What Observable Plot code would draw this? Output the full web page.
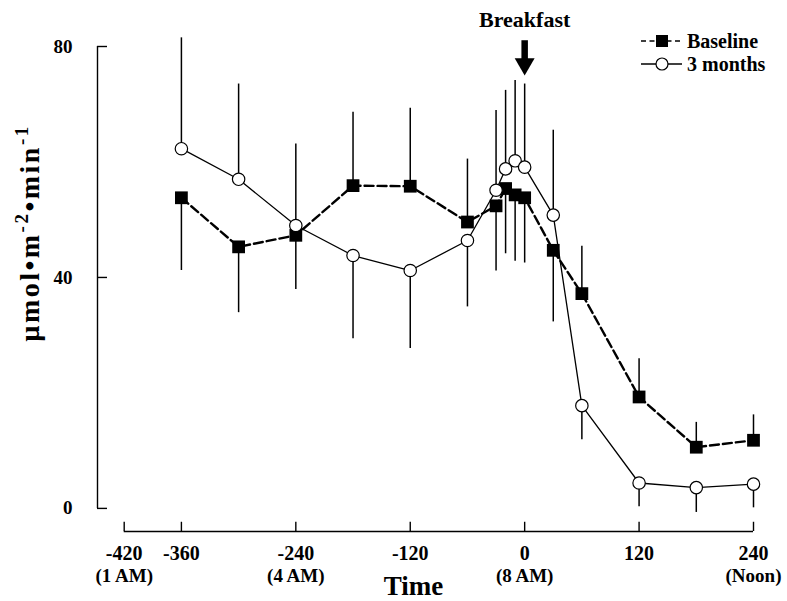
<!DOCTYPE html>
<html>
<head>
<meta charset="utf-8">
<script src="https://cdn.jsdelivr.net/npm/d3@7"></script>
<script src="https://cdn.jsdelivr.net/npm/@observablehq/plot@0.6"></script>
<style>
  html, body { margin: 0; padding: 0; background: #fff; }
  svg { display: block; }
</style>
</head>
<body>
<div id="chart"></div>
<script>
// ---- data ----
const times = [-360, -300, -240, -180, -120, -60, -30, -20, -10, 0, 30, 60, 120, 180, 240];
const baseline = [53.8, 45.3, 47.3, 55.9, 55.8, 49.6, 52.4, 55.4, 54.3, 53.8, 44.7, 37.2, 19.3, 10.6, 11.8];
const baselineBarEnd = [41.2, 33.9, 37.9, 68.6, 69.3, 60.5, 41.1, 44.1, 42.8, 42.5, 32.3, 45.4, 25.9, 14.9, 16.2];
const months3 = [62.3, 57.0, 49.0, 43.8, 41.2, 46.4, 55.1, 58.8, 60.2, 59.1, 50.8, 17.8, 4.4, 3.6, 4.2];
const months3BarEnd = [81.5, 73.5, 63.1, 29.4, 27.7, 34.9, 68.9, 72.4, 74.1, 73.5, 65.5, 11.9, 0.3, -0.7, 0.1];
const xTicks = [-420, -360, -240, -120, 0, 120, 240];
const xTickClock = ["(1 AM)", "", "(4 AM)", "", "(8 AM)", "", "(Noon)"];
const yTicks = [0, 40, 80];
const seriesNames = ["Baseline", "3 months"];
const yTitle = "\u00b5mol\u2022m-2\u2022min-1";
const xTitle = "Time";
const annotations = [{t: 0, label: "Breakfast"}];

const rows = times.map((t, i) => ({
  t, base: baseline[i], baseEnd: baselineBarEnd[i], m3: months3[i], m3End: months3BarEnd[i]
}));

const font = "'Liberation Serif', 'Times New Roman', serif";
const xLeft = -448;   // where the y axis sits, in x units
const yBottom = -4;   // where the x axis sits, in y units
const txt = {fontFamily: font, fontWeight: "bold", fill: "black"};

const chart = Plot.plot({
  width: 787, height: 601,
  marginLeft: 97, marginRight: 34, marginTop: 46, marginBottom: 70,
  x: {domain: [xLeft, 240], axis: null},
  y: {domain: [yBottom, 80], axis: null},
  style: {background: "white", overflow: "visible"},
  marks: [
    // y axis
    Plot.ruleX([xLeft], {x: d => d, y1: 0, y2: 80, stroke: "black", strokeWidth: 1.4}),
    Plot.ruleY(yTicks, {y: d => d, x1: xLeft, x2: xLeft + 10.5, stroke: "black", strokeWidth: 1.4}),
    Plot.text(yTicks, {x: xLeft, y: d => d, text: d => String(d), dx: -25, textAnchor: "end", fontSize: 19, ...txt}),
    // x axis
    Plot.ruleY([yBottom], {y: d => d, x1: -420, x2: 240, stroke: "black", strokeWidth: 1.4}),
    Plot.ruleX(xTicks, {x: d => d, y1: yBottom, y2: yBottom + 1.6, stroke: "black", strokeWidth: 1.4}),
    Plot.text(xTicks, {x: d => d, y: yBottom, dy: 22, text: d => String(d), fontSize: 20, ...txt}),
    Plot.text(xTicks, {x: d => d, y: yBottom, dy: 44, text: (d, i) => xTickClock[i], fontSize: 19, ...txt}),
    Plot.text([xTitle], {frameAnchor: "bottom", text: d => d, dx: -12, dy: 55, lineAnchor: "middle", textAnchor: "middle", fontSize: 27, ...txt}),
    Plot.text([yTitle], {frameAnchor: "left", text: d => d, dx: -67, dy: -56, rotate: -90, lineAnchor: "middle", textAnchor: "middle", fontSize: 28, ...txt}),
    // error bars
    Plot.ruleX(rows, {x: "t", y1: "base", y2: "baseEnd", stroke: "black", strokeWidth: 1.5}),
    Plot.ruleX(rows, {x: "t", y1: "m3", y2: "m3End", stroke: "black", strokeWidth: 1.5}),
    // lines
    Plot.line(rows, {x: "t", y: "m3", stroke: "black", strokeWidth: 1.3}),
    Plot.line(rows, {x: "t", y: "base", stroke: "black", strokeWidth: 2.4, strokeDasharray: "9,4"}),
    // markers
    Plot.dot(rows, {x: "t", y: "base", symbol: "square", r: 7.2, fill: "black", stroke: "none"}),
    Plot.dot(rows, {x: "t", y: "m3", r: 6.2, fill: "white", stroke: "black", strokeWidth: 1.2}),
    // breakfast annotation
    Plot.text(annotations, {x: "t", text: "label", frameAnchor: "top", dy: -27, lineAnchor: "middle", textAnchor: "middle", fontSize: 22, ...txt}),
    Plot.ruleX(annotations, {x: "t", y1: 81.0, y2: 77.5, stroke: "black", strokeWidth: 6.5}),
    Plot.dot(annotations, {x: "t", y: 76.97, symbol: "triangle", r: 7.4, rotate: 180, fill: "black", stroke: "none"})
  ]
});

document.getElementById("chart").appendChild(chart);

const svg = d3.select(chart);

// y title: superscripts as real tspans
svg.selectAll("text").filter(function() { return this.textContent === yTitle; }).each(function() {
  const t = d3.select(this).text(null).attr("letter-spacing", 2.5);
  const parts = [["\u00b5mol\u2022m", 0, null], ["-2", -11, 19], ["\u2022min", 11, null], ["-1", -11, 19]];
  parts.forEach(([s, dy, fs]) => {
    const sp = t.append("tspan").attr("dy", dy).text(s);
    if (fs) sp.attr("font-size", fs);
  });
});

// legend (top right)
const leg = svg.append("g").attr("font-family", font).attr("font-weight", "bold")
  .attr("font-size", 20).attr("text-anchor", "start");
const legRows = [
  {name: seriesNames[0], y: 41, dash: "5,3.5", w: 1.5},
  {name: seriesNames[1], y: 64, dash: null, w: 1.3}
];
legRows.forEach((r, i) => {
  const line = leg.append("line").attr("x1", 641).attr("x2", 682).attr("y1", r.y).attr("y2", r.y)
    .attr("stroke", "black").attr("stroke-width", r.w);
  if (r.dash) line.attr("stroke-dasharray", r.dash);
  if (i === 0) {
    leg.append("rect").attr("x", 656).attr("y", r.y - 6).attr("width", 12).attr("height", 12).attr("fill", "black");
  } else {
    leg.append("circle").attr("cx", 662).attr("cy", r.y).attr("r", 6).attr("fill", "white")
      .attr("stroke", "black").attr("stroke-width", 1.2);
  }
  leg.append("text").attr("x", 687).attr("y", r.y).attr("dy", "0.35em").attr("text-anchor", "start").text(r.name);
});
</script>
</body>
</html>
